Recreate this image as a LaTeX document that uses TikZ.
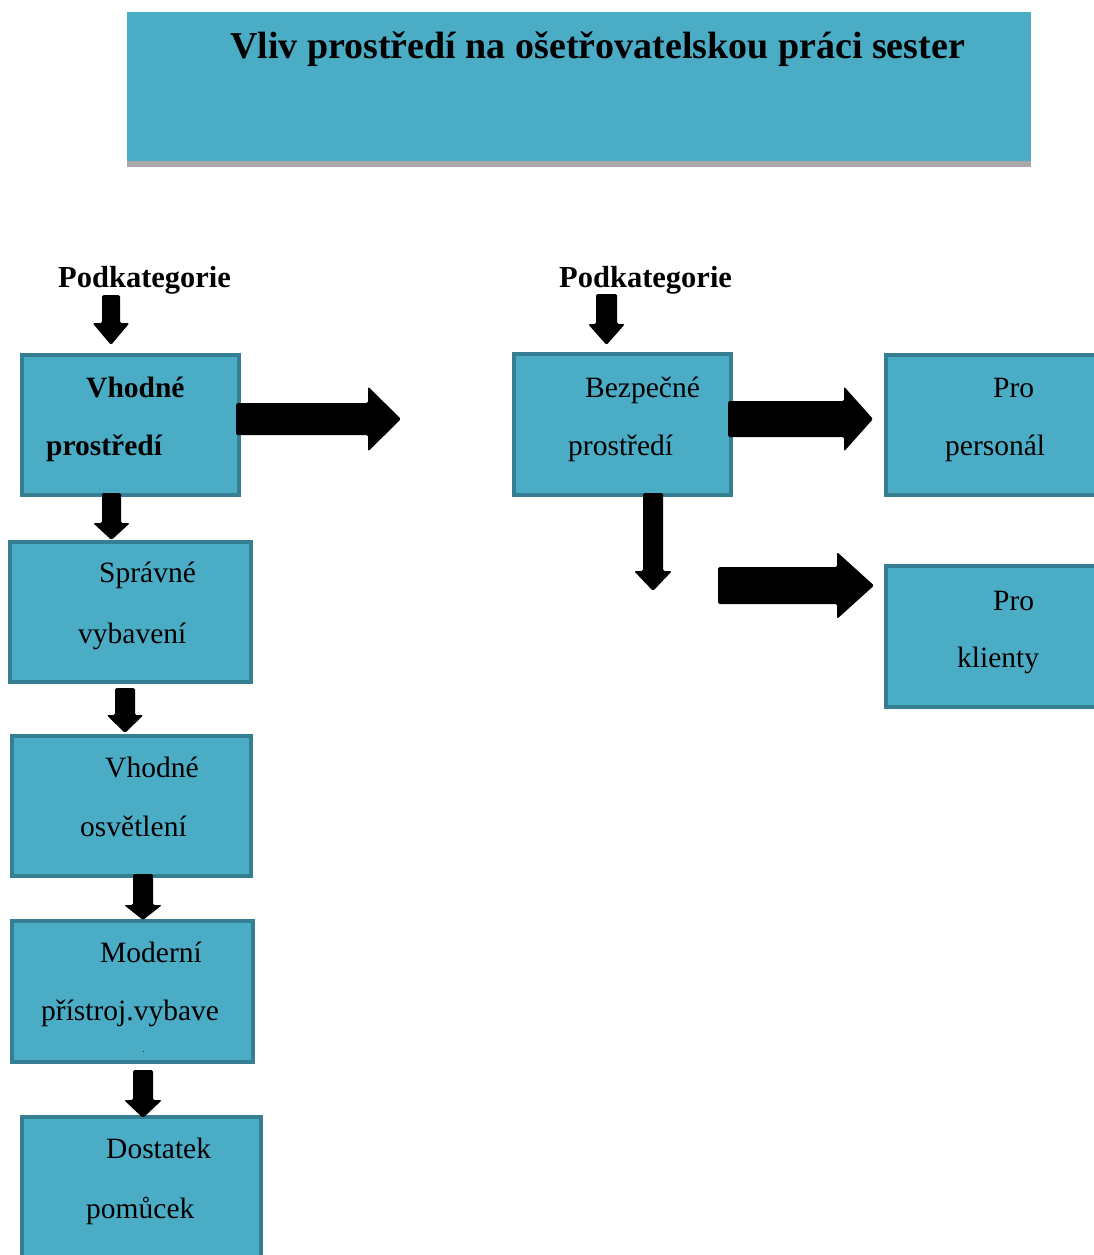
\documentclass[tikz,border=0pt]{standalone}
\usepackage{fontspec}
\setmainfont{Liberation Serif}
\definecolor{boxfill}{HTML}{4BACC6}
\definecolor{boxline}{HTML}{367E91}
\definecolor{shadowgray}{HTML}{A9A9A9}
% down block arrow: centre x, top y, head start y, tip y, shaft half width, head half width
\newcommand\dnarr[6]{%
  \fill[black,rounded corners=1.5pt] (#1-#5,#2) -- (#1+#5,#2) -- (#1+#5,#3) -- (#1+#6,#3) -- (#1,#4) -- (#1-#6,#3) -- (#1-#5,#3) -- cycle;}
% right block arrow: start x, head start x, tip x, centre y, shaft half height, head half height
\newcommand\rtarr[6]{%
  \fill[black,rounded corners=1.5pt] (#1,#4-#5) -- (#2,#4-#5) -- (#2,#4-#6) -- (#3,#4) -- (#2,#4+#6) -- (#2,#4+#5) -- (#1,#4+#5) -- cycle;}
\begin{document}
\begin{tikzpicture}[x=1pt,y=-1pt,
  box/.style={draw=boxline,fill=boxfill,line width=4pt},
  txt/.style={anchor=base west,inner sep=0pt,font=\fontsize{29.5}{35}\selectfont},
  btxt/.style={txt,font=\fontsize{29.5}{35}\selectfont\bfseries},
  podtxt/.style={txt,font=\fontsize{30.5}{36}\selectfont\bfseries}]
\useasboundingbox (0,0) rectangle (1094,1255);
\clip (0,0) rectangle (1094,1255);

% title
\fill[shadowgray] (127,155) rectangle (1031,167);
\node[fill=boxfill,minimum width=904pt,minimum height=149pt,inner sep=0pt,anchor=north west] (title) at (127,12) {};
\node[anchor=base,inner sep=0pt,font=\fontsize{38}{44}\selectfont\bfseries] (titletext) at (597.5,59) {Vliv prostředí na ošetřovatelskou práci sester};

% subcategory labels
\node[podtxt] (podL) at (58,287) {Podkategorie};
\node[podtxt] (podR) at (559,287) {Podkategorie};

% boxes
\draw[box] (22,355) rectangle (239,495);
\coordinate (b1) at (130.5,425);
\draw[box] (10,542) rectangle (251,682);
\coordinate (b2) at (130.5,612);
\draw[box] (12,736) rectangle (251,876);
\coordinate (b3) at (131.5,806);
\draw[box] (12,921) rectangle (253,1062);
\coordinate (b4) at (132.5,991);
\draw[box] (22,1117) rectangle (261,1275);
\coordinate (b5) at (141.5,1190);
\draw[box] (514,354) rectangle (731,495);
\coordinate (b6) at (622.5,425);
\draw[box] (886,355) rectangle (1110,495);
\coordinate (b7) at (998,425);
\draw[box] (886,566) rectangle (1110,707);
\coordinate (b8) at (998,636);

% box texts
\node[btxt] (t1a) at (86,397) {Vhodné};
\node[btxt] (t1b) at (46,455) {prostředí};
\node[txt] (t2a) at (99,582) {Správné};
\node[txt] (t2b) at (78,643) {vybavení};
\node[txt] (t3a) at (105,777) {Vhodné};
\node[txt] (t3b) at (80,836) {osvětlení};
\node[txt] (t4a) at (100,962) {Moderní};
\node[txt] (t4b) at (41,1020) {přístroj.vybave};
\node[anchor=base,inner sep=0pt,font=\fontsize{8}{9}\selectfont] (t4c) at (143.5,1052) {.};
\node[txt] (t5a) at (106,1158) {Dostatek};
\node[txt] (t5b) at (86,1218) {pomůcek};
\node[txt] (t6a) at (585,397) {Bezpečné};
\node[txt] (t6b) at (568,455) {prostředí};
\node[txt] (t7a) at (993,397) {Pro};
\node[txt] (t7b) at (945,455) {personál};
\node[txt] (t8a) at (993,610) {Pro};
\node[txt] (t8b) at (957,667) {klienty};

% down arrows
\dnarr{111}{295}{323}{345}{9}{18.5}
\dnarr{111.5}{493}{523}{540}{9.5}{18.5}
\dnarr{125}{688}{715}{733}{10}{18.5}
\dnarr{143}{874}{905}{920}{10}{19}
\dnarr{143}{1070}{1100}{1118}{10}{19}
\dnarr{606.5}{294}{324}{345}{10.5}{18.5}
\dnarr{653}{493}{571}{591}{10}{19}

% right arrows
\rtarr{236}{368}{401}{419}{16}{32.5}
\rtarr{728}{844}{873}{419}{18}{32.5}
\rtarr{718}{837}{874}{585.5}{18.5}{33.5}
\end{tikzpicture}
\end{document}
